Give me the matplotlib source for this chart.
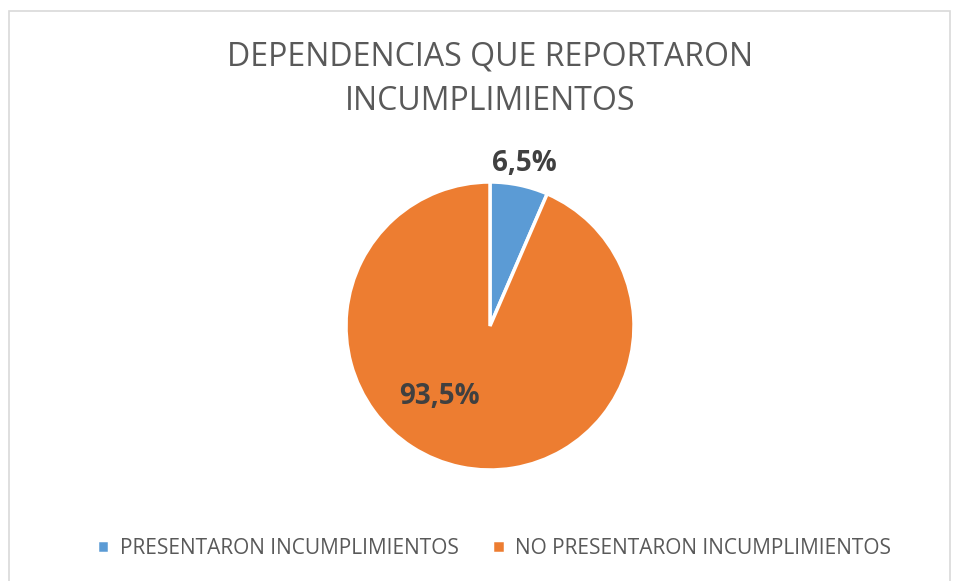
import matplotlib.pyplot as plt
from matplotlib.patches import Rectangle

plt.rcParams['font.family'] = ['Open Sans', 'DejaVu Sans']

labels = ["PRESENTARON INCUMPLIMIENTOS", "NO PRESENTARON INCUMPLIMIENTOS"]
values = [6.5, 93.5]
pct_text = ["6,5%", "93,5%"]
colors = ["#5b9bd5", "#ed7d31"]

fig = plt.figure(figsize=(9.56, 5.81), dpi=100)
fig.patches.append(Rectangle((9/956, -0.1), 941/956, 1 - 11/581 + 0.1,
                             transform=fig.transFigure, fill=False,
                             ec="#d9d9d9", lw=1.2))

# pie axes: center (490, 326), radius 144 px
r = 144
ax = fig.add_axes([(490 - r) / 956, (581 - 326 - r) / 581, 2 * r / 956, 2 * r / 581])
wedges, _ = ax.pie(values, colors=colors, startangle=90, counterclock=False,
                   wedgeprops=dict(edgecolor="white", linewidth=2.5))
ax.set_aspect('auto')
ax.set_xlim(-1, 1)
ax.set_ylim(-1, 1)

ax.text(0.24, 1.13, pct_text[0], ha="center", va="center", fontsize=20,
        fontweight="bold", color="#404040")
ax.text(-0.35, -0.49, pct_text[1], ha="center", va="center", fontsize=20,
        fontweight="bold", color="#404040")

fig.text(490 / 956, 1 - 57 / 581, "DEPENDENCIAS QUE REPORTARON", ha="center",
         va="center", fontsize=23, color="#595959")
fig.text(490 / 956, 1 - 101 / 581, "INCUMPLIMIENTOS", ha="center",
         va="center", fontsize=23, color="#595959")

fig.legend(wedges, labels, loc="center", bbox_to_anchor=(494 / 956, 1 - 548 / 581),
           ncol=2, frameon=False, fontsize=15, labelcolor="#595959",
           handlelength=0.6, handleheight=0.6, handletextpad=0.5, columnspacing=1.6)

fig.savefig("out.png", dpi=100)
